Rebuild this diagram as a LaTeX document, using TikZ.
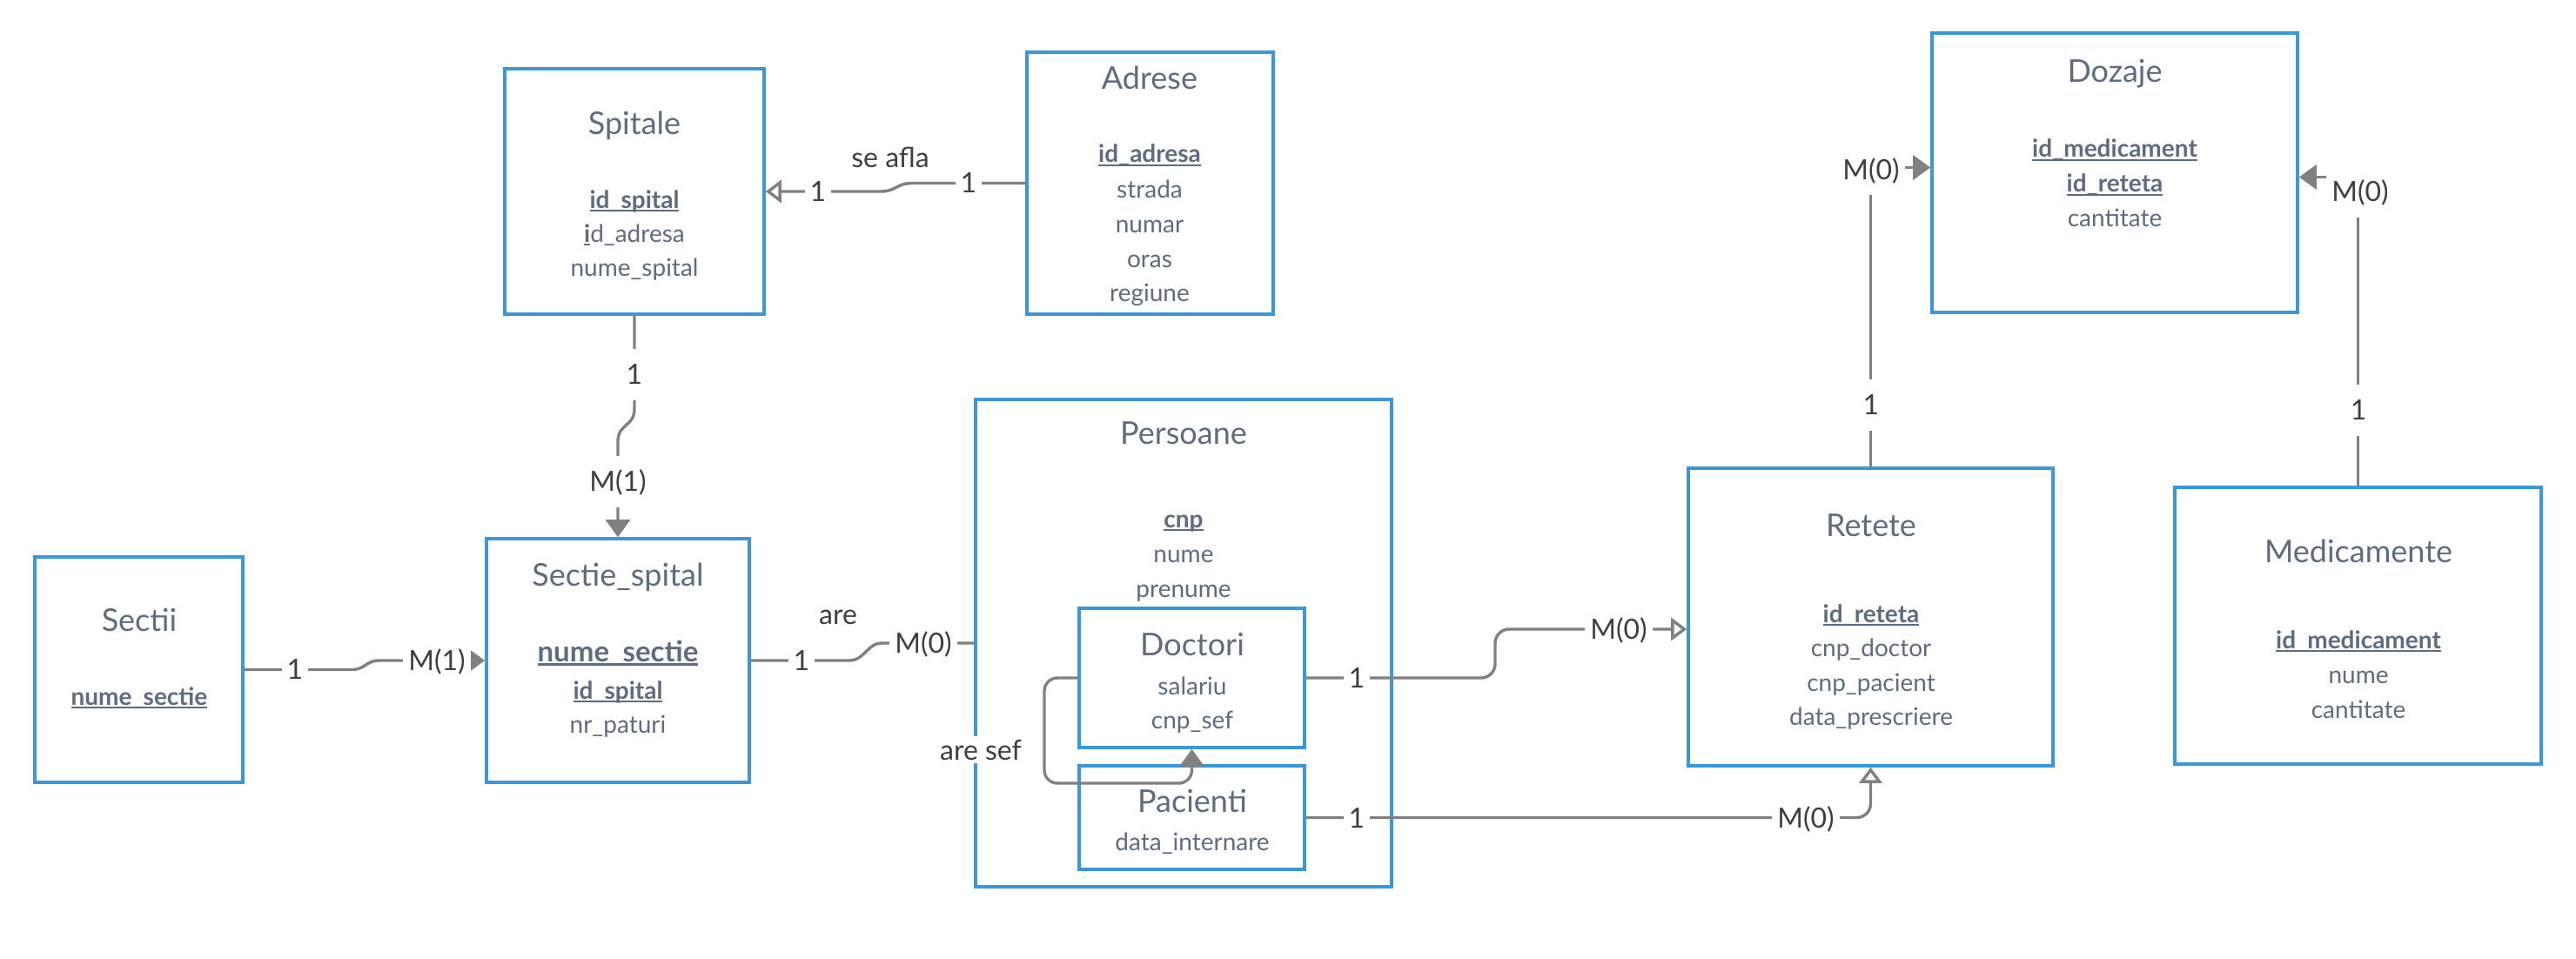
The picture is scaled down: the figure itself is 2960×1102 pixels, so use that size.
\documentclass[tikz,border=0pt]{standalone}
\usepackage{fontspec}
\setmainfont{Lato}
\usetikzlibrary{arrows.meta}

\definecolor{boxblue}{HTML}{3A97DC}
\definecolor{attrgray}{HTML}{5D6C7E}
\definecolor{cardgray}{HTML}{3F3F3F}
\definecolor{linegray}{HTML}{808080}

\newcommand{\keyattr}[1]{\setbox0\hbox{\textbf{#1}}\rlap{\rule[-0.16em]{\wd0}{0.09em}}\box0}

\begin{document}
\begin{tikzpicture}[x=1pt,y=-1pt,
  entity/.style={draw=boxblue, line width=3.6pt, rectangle, inner sep=0pt},
  enttitle/.style={anchor=base, text=attrgray, font=\fontsize{36}{40}\selectfont},
  attr/.style={anchor=base, text=attrgray, font=\fontsize{28}{34}\selectfont},
  card/.style={fill=white, text=cardgray, font=\fontsize{32}{36}\selectfont, inner xsep=6pt, inner ysep=11pt, text height=30pt, text depth=7pt},
  rel/.style={anchor=base, text=cardgray, font=\fontsize{32}{36}\selectfont},
  conn/.style={draw=linegray, line width=3.4pt},
  solidtip/.style={-{Triangle[length=20pt,width=28pt]}},
  opentip/.style={-{Triangle[open,length=18pt,width=26pt]}},
]
\useasboundingbox (0,0) rectangle (2960,1102);

% entities
\node[entity, minimum width=298pt, minimum height=282pt] (spitale) at (729,220) {};
\node[entity, minimum width=283pt, minimum height=301pt] (adrese) at (1321.5,210.5) {};
\node[entity, minimum width=420pt, minimum height=321pt] (dozaje) at (2430,198.5) {};
\node[entity, minimum width=239pt, minimum height=259pt] (sectii) at (159.5,769.5) {};
\node[entity, minimum width=302pt, minimum height=280pt] (sectie) at (710,759) {};
\node[entity, minimum width=478pt, minimum height=560pt] (persoane) at (1360,739) {};
\node[entity, minimum width=259pt, minimum height=160pt] (doctori) at (1369.5,779) {};
\node[entity, minimum width=259pt, minimum height=119pt] (pacienti) at (1369.5,939.5) {};
\node[entity, minimum width=419pt, minimum height=342pt] (retete) at (2149.5,709) {};
\node[entity, minimum width=421pt, minimum height=318pt] (medicamente) at (2709.5,719) {};

% Spitale
\node[enttitle] (spitaleT) at (729,155) {Spitale};
\node[attr] (spitale1) at (729,239) {\keyattr{id\_spital}};
\node[attr] (spitale2) at (729,278) {\keyattr{i}d\_adresa};
\node[attr] (spitale3) at (729,317) {nume\_spital};

% Adrese
\node[enttitle] (adreseT) at (1321,103) {Adrese};
\node[attr] (adrese1) at (1321,187) {\keyattr{id\_adresa}};
\node[attr] (adrese2) at (1321,227) {strada};
\node[attr] (adrese3) at (1321,267) {numar};
\node[attr] (adrese4) at (1321,307) {oras};
\node[attr] (adrese5) at (1321,346) {regiune};

% Dozaje
\node[enttitle] (dozajeT) at (2430,95) {Dozaje};
\node[attr] (dozaje1) at (2430,181) {\keyattr{id\_medicament}};
\node[attr] (dozaje2) at (2430,221) {\keyattr{id\_reteta}};
\node[attr] (dozaje3) at (2430,260) {cantitate};

% Sectii
\node[enttitle] (sectiiT) at (160,725) {Sectii};
\node[attr] (sectii1) at (160,810) {\keyattr{nume\_sectie}};

% Sectie_spital
\node[enttitle] (sectieT) at (710,673) {Sectie\_spital};
\node[attr, font=\fontsize{33}{38}\selectfont] (sectie1) at (710,760) {\keyattr{nume\_sectie}};
\node[attr] (sectie2) at (710,803) {\keyattr{id\_spital}};
\node[attr] (sectie3) at (710,842) {nr\_paturi};

% Persoane
\node[enttitle] (persoaneT) at (1360,510) {Persoane};
\node[attr] (persoane1) at (1360,606) {\keyattr{cnp}};
\node[attr] (persoane2) at (1360,646) {nume};
\node[attr] (persoane3) at (1360,686) {prenume};

% Doctori, Pacienti
\node[enttitle] (doctoriT) at (1370,753) {Doctori};
\node[attr] (doctori1) at (1370,798) {salariu};
\node[attr] (doctori2) at (1370,837) {cnp\_sef};
\node[enttitle] (pacientiT) at (1370,933) {Pacienti};
\node[attr] (pacienti1) at (1370,977) {data\_internare};

% Retete
\node[enttitle] (reteteT) at (2150,616) {Retete};
\node[attr] (retete1) at (2150,715) {\keyattr{id\_reteta}};
\node[attr] (retete2) at (2150,754) {cnp\_doctor};
\node[attr] (retete3) at (2150,794) {cnp\_pacient};
\node[attr] (retete4) at (2150,833) {data\_prescriere};

% Medicamente
\node[enttitle] (medicamenteT) at (2710,646) {Medicamente};
\node[attr] (medicamente1) at (2710,745) {\keyattr{id\_medicament}};
\node[attr] (medicamente2) at (2710,785) {nume};
\node[attr] (medicamente3) at (2710,825) {cantitate};

% relationships
\draw[conn, opentip] (adrese.west) -- (1048,210.5) .. controls (1030,210.5) and (1030,220) .. (1012,220) -- (spitale.east);
\node[card] (adreseC) at (1113,210) {1};
\node[card] (spitaleC1) at (940,220) {1};
\node[rel] (seafla) at (1023,193) {se afla};

\draw[conn, solidtip] (spitale.south) -- (729,470) .. controls (729,490) and (710,487) .. (710,507) -- (sectie.north);
\node[card] (spitaleC2) at (729,430) {1};
\node[card] (sectieC1) at (710,553) {M(1)};

\draw[conn, solidtip] (sectii.east) -- (404,769.5) .. controls (420,769.5) and (420,759) .. (436,759) -- (sectie.west);
\node[card] (sectiiC) at (339,769) {1};
\node[card] (sectieC2) at (502,759) {M(1)};

\draw[conn] (sectie.east) -- (975,759) .. controls (995,759) and (995,739) .. (1014,739) -- (persoane.west);
\node[card] (sectieC3) at (921,759) {1};
\node[card] (persoaneC) at (1061,739) {M(0)};
\node[rel] (are) at (963,717) {are};

\draw[conn, opentip, rounded corners=16pt] (doctori.east) -| (1718,723) -- ([yshift=-14pt]retete.west);
\node[card] (doctoriC) at (1559,779) {1};
\node[card] (reteteC1) at (1860,723) {M(0)};

\draw[conn, opentip, rounded corners=16pt] (pacienti.east) -| (retete.south);
\node[card] (pacientiC) at (1559,940) {1};
\node[card] (reteteC2) at (2075,940) {M(0)};

\draw[conn, solidtip] (retete.north) |- ([yshift=6pt]dozaje.west);
\node[card] (reteteC3) at (2150,465) {1};
\node[card] (dozajeC1) at (2150,195) {M(0)};

\draw[conn, solidtip] (medicamente.north) |- ([yshift=-5pt]dozaje.east);
\node[card] (medicamenteC) at (2710,471) {1};
\node[card] (dozajeC2) at (2712,220) {M(0)};

\draw[conn, solidtip, rounded corners=15pt] (doctori.west) -| (1200,900) -| (doctori.south);
\node[rel, fill=white] (aresef) at (1127,873) {are sef};

\end{tikzpicture}
\end{document}
